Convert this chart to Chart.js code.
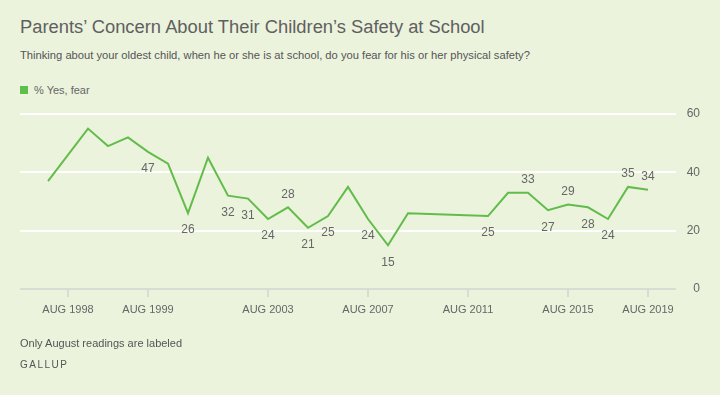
<!DOCTYPE html>
<html>
<head>
<meta charset="utf-8">
<script src="https://cdn.jsdelivr.net/npm/chart.js@4/dist/chart.umd.min.js"></script>
<style>
  html, body { margin: 0; padding: 0; }
  body { width: 720px; height: 395px; background: #ebf3dd; position: relative; overflow: hidden;
         font-family: "Liberation Sans", Arial, sans-serif; color: #666; }
  .txt { position: absolute; left: 20px; white-space: nowrap; line-height: 1; }
  #title { top: 18px; font-size: 18.35px; color: #606060; }
  #subtitle { top: 50px; font-size: 11.2px; color: #555; }
  #legend { top: 85px; font-size: 11px; color: #666; }
  #legend .box { position: absolute; left: 0; top: 1px; width: 8px; height: 8px; background: #5ebf4b; }
  #legend span.lbl { margin-left: 14px; }
  #note { top: 338px; font-size: 11px; color: #555; }
  #brand { top: 360px; font-size: 10px; letter-spacing: 1.5px; color: #555; }
  canvas { position: absolute; left: 0; top: 0; }
</style>
</head>
<body>
<div class="txt" id="title">Parents’ Concern About Their Children’s Safety at School</div>
<div class="txt" id="subtitle">Thinking about your oldest child, when he or she is at school, do you fear for his or her physical safety?</div>
<div class="txt" id="legend"><span class="box"></span><span class="lbl">% Yes, fear</span></div>
<canvas id="chart" width="720" height="395"></canvas>
<div class="txt" id="note">Only August readings are labeled</div>
<div class="txt" id="brand">GALLUP</div>

<script>
// survey dates (one slot each), null = question not asked
const categories = [
  'APR 1998', 'AUG 1998', 'APR 1999', 'MAY 1999', 'JUN 1999', 'AUG 1999',
  'MAR 2000', 'AUG 2000', 'MAR 2001', 'AUG 2001', 'AUG 2002', 'AUG 2003',
  'AUG 2004', 'AUG 2005', 'AUG 2006', 'OCT 2006', 'AUG 2007', 'AUG 2008',
  'APR 2009', 'AUG 2009', 'AUG 2010', 'AUG 2011', 'AUG 2012', 'DEC 2012',
  'AUG 2013', 'AUG 2014', 'AUG 2015', 'AUG 2016', 'AUG 2017', 'AUG 2018',
  'AUG 2019'
];
const yesFear = [
  37, null, 55, 49, 52, 47,
  43, 26, 45, 32, 31, 24,
  28, 21, 25, 35, 24, 15,
  26, null, null, null, 25, 33,
  33, 27, 29, 28, 24, 35,
  34
];
const tickLabels = ['AUG 1998', 'AUG 1999', 'AUG 2003', 'AUG 2007', 'AUG 2011', 'AUG 2015', 'AUG 2019'];
const yTicks = [0, 20, 40, 60];

const GREEN = '#62bc4a';
const TEXT = '#666666';
const AXIS = '#d9dcd4';

// neighbours ignoring gaps, to decide if a label goes above the line
const prevVal = (i) => { for (let j = i - 1; j >= 0; j--) if (yesFear[j] != null) return yesFear[j]; return null; };
const nextVal = (i) => { for (let j = i + 1; j < yesFear.length; j++) if (yesFear[j] != null) return yesFear[j]; return null; };

const valueLabels = {
  id: 'valueLabels',
  afterDatasetsDraw(chart) {
    const ctx = chart.ctx;
    const meta = chart.getDatasetMeta(0);
    ctx.save();
    ctx.font = '12px "Liberation Sans", Arial, sans-serif';
    ctx.fillStyle = TEXT;
    ctx.textAlign = 'center';
    ctx.textBaseline = 'middle';
    yesFear.forEach((v, i) => {
      if (v == null || !categories[i].startsWith('AUG')) return;
      const p = prevVal(i), n = nextVal(i);
      const above = n == null || ((p == null || v >= p) && v >= n);
      const pt = meta.data[i];
      ctx.fillText(String(v), pt.x, above ? pt.y - 13 : pt.y + 17);
    });
    ctx.restore();
  }
};

const chart = new Chart(document.querySelector('#chart'), {
  type: 'line',
  data: {
    datasets: [{
      label: '% Yes, fear',
      data: yesFear.map((v, i) => ({ x: i, y: v })),
      borderColor: GREEN,
      borderWidth: 2,
      pointRadius: 0,
      spanGaps: true,
      tension: 0
    }]
  },
  options: {
    responsive: false,
    animation: false,
    layout: { padding: { left: 20, right: 20, top: 114, bottom: 66 } },
    plugins: { legend: { display: false }, tooltip: { enabled: false } },
    scales: {
      x: {
        type: 'linear',
        min: -1.4,
        max: 31.4,
        afterBuildTicks: (scale) => {
          scale.ticks = tickLabels.map((l) => ({ value: categories.indexOf(l) }));
        },
        afterFit: (scale) => { scale.height = 40; },
        ticks: {
          autoSkip: false,
          maxRotation: 0,
          padding: 6,
          color: TEXT,
          font: { family: '"Liberation Sans", Arial, sans-serif', size: 11 },
          callback: (v) => categories[v]
        },
        grid: { drawOnChartArea: false, drawTicks: true, tickLength: 8, color: AXIS, lineWidth: 2 },
        border: { display: false }
      },
      y: {
        position: 'right',
        min: 0,
        max: 60,
        afterBuildTicks: (scale) => { scale.ticks = yTicks.map((v) => ({ value: v })); },
        afterFit: (scale) => { scale.width = 24; },
        ticks: {
          crossAlign: 'far',
          padding: 0,
          color: TEXT,
          font: { family: '"Liberation Sans", Arial, sans-serif', size: 12 }
        },
        grid: {
          drawTicks: false,
          lineWidth: 2,
          color: (c) => (c.tick && c.tick.value === 0 ? AXIS : '#ffffff')
        },
        border: { display: false }
      }
    }
  },
  plugins: [valueLabels]
});
</script>
</body>
</html>
